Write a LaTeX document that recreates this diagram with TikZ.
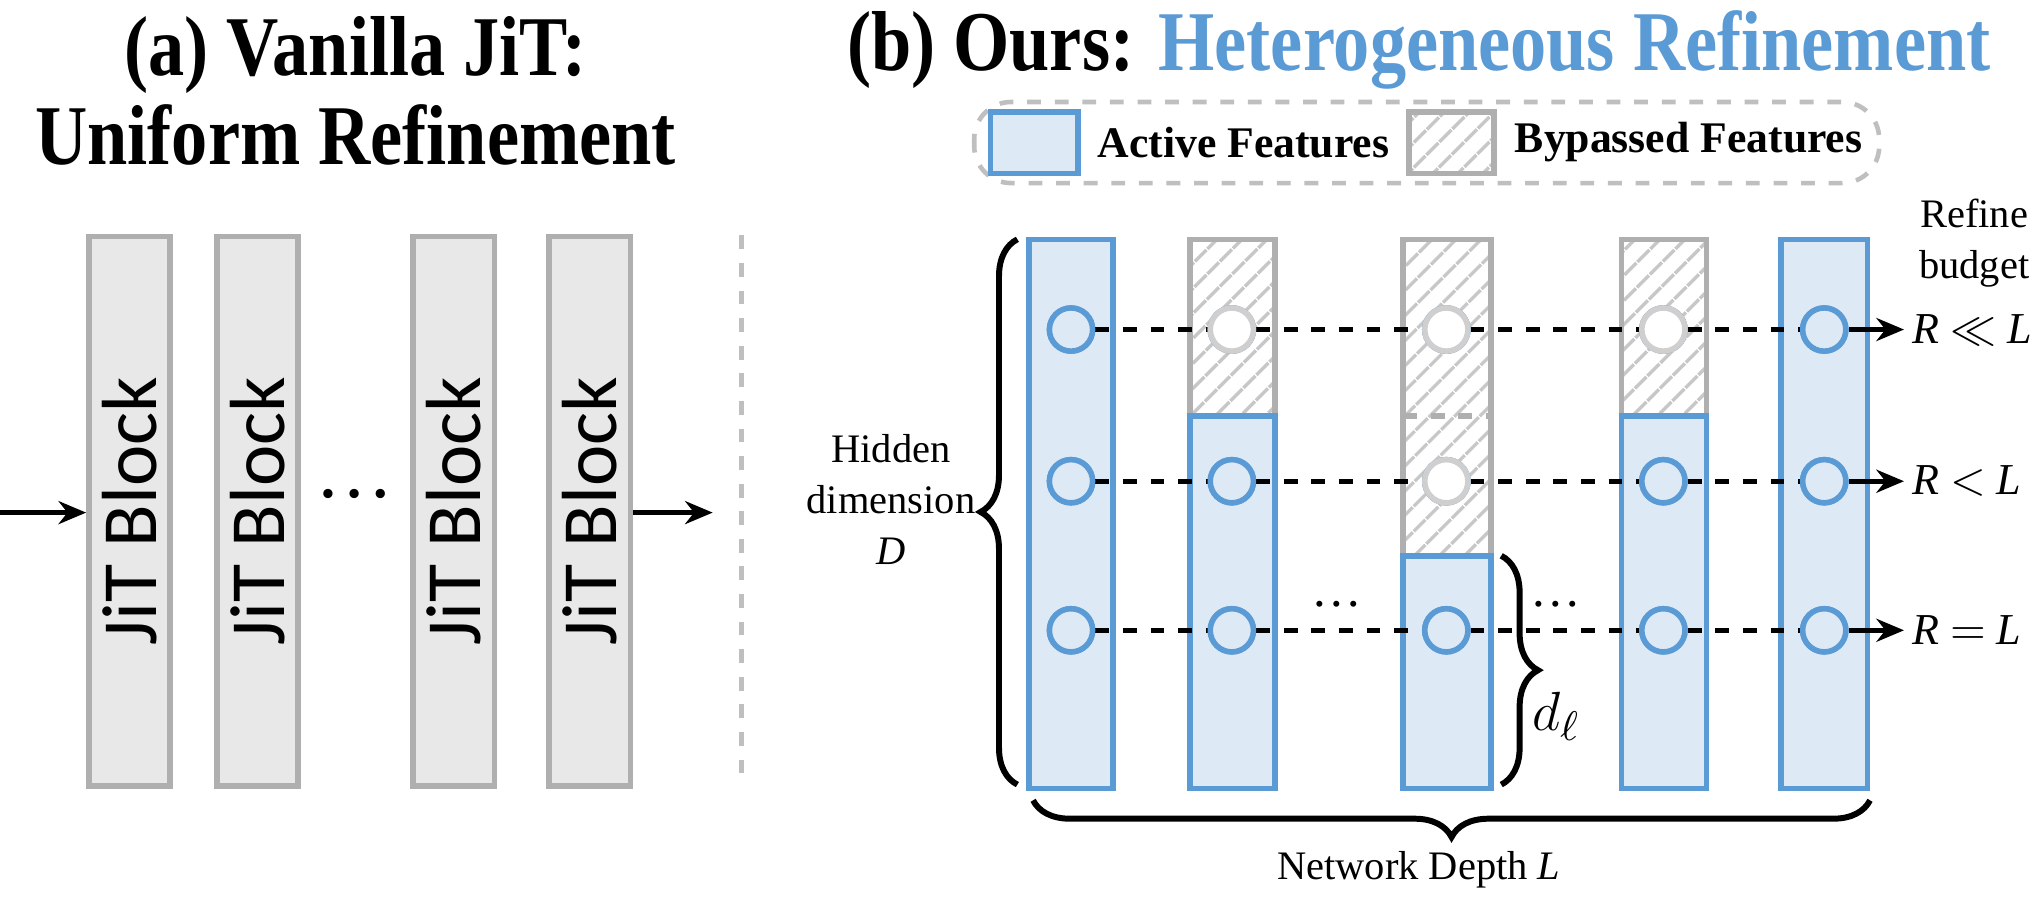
\documentclass[tikz,border=0pt]{standalone}
\usepackage{fontspec}
\setmainfont{Liberation Serif}
\newfontfamily\carl{Carlito}
\newfontfamily\condser[FakeStretch=0.85]{Liberation Serif}
\usetikzlibrary{arrows.meta,patterns.meta,decorations.pathreplacing,calc}
\definecolor{bblue}{HTML}{5B9BD5}
\definecolor{lblue}{HTML}{DDEAF6}
\definecolor{gbord}{HTML}{AFAFAF}
\definecolor{gfill}{HTML}{E8E8E8}
\tikzset{
 px/.style={x=0.01cm,y=-0.01cm},
 jit/.style={draw=gbord,fill=gfill,line width=1.2pt},
 act/.style={draw=bblue,fill=lblue,line width=1.2pt},
 byp/.style={draw=gbord,line width=1.2pt,pattern={Lines[angle=45,distance=4pt,line width=0.8pt]},pattern color=gbord!70},
 dot/.style={circle,draw=bblue,fill=lblue,line width=1.2pt,minimum size=0.33cm,inner sep=0pt},
 gdot/.style={circle,draw=gbord!60,fill=white,line width=1.2pt,minimum size=0.33cm,inner sep=0pt},
 arr/.style={-{Stealth[length=6pt,width=5pt]},line width=1pt},
 brc/.style={decorate,decoration={brace,amplitude=8pt},line width=1.3pt},
 lab/.style={font=\fontsize{8.8}{11}\selectfont,inner sep=1pt},
 ttl/.style={font=\condser\bfseries\fontsize{18.5}{22}\selectfont}
}
\begin{document}
\begin{tikzpicture}[px]
\useasboundingbox (0,0) rectangle (1560,688);
% titles
\node[ttl] (ta) at (272,42) {(a) Vanilla JiT:};
\node[ttl] (tb) at (272,103) {Uniform Refinement};
\node[ttl] (tc) at (1085,38) {(b) Ours: \textcolor{bblue}{Heterogeneous Refinement}};
% left blocks
\foreach \n/\x in {1/99,2/197,3/347,4/451}{
 \node[jit,minimum width=0.62cm,minimum height=4.2cm,inner sep=0pt] (b\n) at (\x,391) {};
 \node[rotate=90,font=\carl\fontsize{17}{20}\selectfont] at (b\n) {JiT Block};
}
\node[font=\fontsize{17}{20}\selectfont] (ld) at (271,378) {\dots};
\coordinate (in) at (0,392);
\coordinate (out) at (545,392);
\draw[arr] (in) -- (b1.west|-in);
\draw[arr] (b4.east|-out) -- (out);
\draw[gbord!80,dashed,line width=1pt] (567,180) -- (567,600);
% legend
\draw[gbord!80,dashed,rounded corners=8pt,line width=1pt] (745,78) rectangle (1437,140);
\node[act,minimum width=0.67cm,minimum height=0.47cm,inner sep=0pt] (la) at (791,109) {};
\node[anchor=west,font=\bfseries\fontsize{9.5}{11}\selectfont] (lat) at (827,109) {Active Features};
\node[byp,minimum width=0.65cm,minimum height=0.47cm,inner sep=0pt] (lb) at (1110,109) {};
\node[anchor=west,font=\bfseries\fontsize{9.5}{11}\selectfont] (lbt) at (1146,109) {Bypassed Features};
% columns
\draw[act] (787,183) rectangle (851,603);
\draw[byp] (910,183) rectangle (975,318);
\draw[act] (910,318) rectangle (975,603);
\draw[byp] (1073,183) rectangle (1140,425);
\draw[gbord,dashed,line width=1.2pt] (1073,318) -- (1140,318);
\draw[act] (1073,425) rectangle (1140,603);
\draw[byp] (1240,183) rectangle (1305,318);
\draw[act] (1240,318) rectangle (1305,603);
\draw[act] (1362,183) rectangle (1428,603);
% rows
\foreach \r/\y/\t in {1/252/{\textit{R} $\ll$ \textit{L}},2/368/{\textit{R} $<$ \textit{L}},3/482/{\textit{R} $=$ \textit{L}}}{
 \coordinate (e\r) at (1456,\y);
 \node[anchor=west,inner sep=1pt,font=\fontsize{9.6}{11}\selectfont] (rl\r) at (1458,\y) {\t};
}
\node[dot] (c11) at (819,252) {};
\node[gdot] (c12) at (942,252) {};
\node[gdot] (c13) at (1106,252) {};
\node[gdot] (c14) at (1272,252) {};
\node[dot] (c15) at (1395,252) {};
\node[dot] (c21) at (819,368) {};
\node[dot] (c22) at (942,368) {};
\node[gdot] (c23) at (1106,368) {};
\node[dot] (c24) at (1272,368) {};
\node[dot] (c25) at (1395,368) {};
\node[dot] (c31) at (819,482) {};
\node[dot] (c32) at (942,482) {};
\node[dot] (c33) at (1106,482) {};
\node[dot] (c34) at (1272,482) {};
\node[dot] (c35) at (1395,482) {};
\foreach \r in {1,2,3}{
 \draw[dashed,line width=1pt] (c\r1) -- (c\r2) -- (c\r3) -- (c\r4) -- (c\r5);
 \draw[arr] (c\r5) -- (e\r);
}
\foreach \r in {1,2,3}{\foreach \c in {1,...,5}{\node[dot] at (c\r\c) {};}}
\node[gdot] at (c12) {};\node[gdot] at (c13) {};\node[gdot] at (c14) {};\node[gdot] at (c23) {};
\node[font=\fontsize{11}{13}\selectfont] (d1) at (1022,462) {\dots};
\node[font=\fontsize{11}{13}\selectfont] (d2) at (1190,462) {\dots};
\node[lab,align=center,anchor=east] (rb) at (1556,186) {Refine\\budget};
% braces
\draw[brc] (778,600) -- (778,183);
\node[lab,align=center,anchor=east] (hd) at (750,382) {Hidden\\dimension\\\textit{D}};
\draw[brc] (1148,425) -- (1148,600);
\node[font=\fontsize{13}{15}\selectfont] (dl) at (1190,548) {$d_\ell$};
\draw[brc] (1430,612) -- (790,612);
\node[lab] (nd) at (1085,665) {Network Depth \textit{L}};
\end{tikzpicture}
\end{document}
